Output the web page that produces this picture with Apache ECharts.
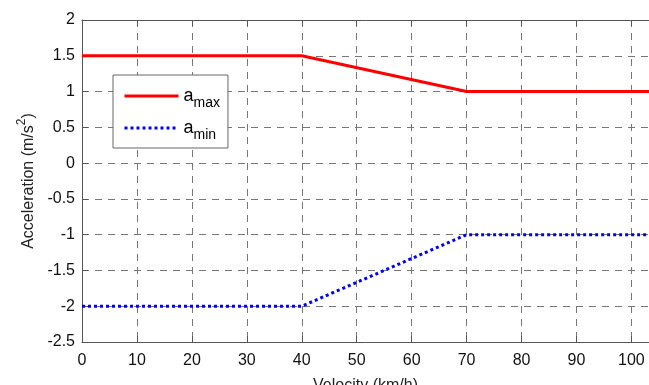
<!DOCTYPE html>
<html>
<head>
<meta charset="utf-8">
<script src="https://cdn.jsdelivr.net/npm/echarts@6/dist/echarts.min.js"></script>
<style>
  html, body { margin: 0; padding: 0; background: #fff; }
  #chart { width: 649px; height: 385px; }
</style>
</head>
<body>
<div id="chart"></div>
<script>
// velocity breakpoints (km/h) and acceleration limits (m/s^2)
const velocity = [0, 40, 70, 103.2];
const aMax = [1.5, 1.5, 1.0, 1.0];
const aMin = [-2, -2, -1, -1];
const xTicks = [0, 10, 20, 30, 40, 50, 60, 70, 80, 90, 100];
const yTicks = [-2.5, -2, -1.5, -1, -0.5, 0, 0.5, 1, 1.5, 2];

const font = "Liberation Sans, Arial, sans-serif";
const gridLine = { show: true, lineStyle: { color: "#777", type: [7, 6], width: 1 } };

let mychart = echarts.init(document.getElementById("chart"));
mychart.setOption({
  animation: false,
  grid: { left: 82, top: 20, right: 0, bottom: 43, outerBoundsMode: "none" },
  legend: {
    orient: "vertical",
    left: 113,
    top: 75,
    backgroundColor: "#fff",
    borderColor: "#666",
    borderWidth: 1,
    padding: [12, 8, 6, 10],
    itemWidth: 54,
    itemHeight: 12,
    itemGap: 9,
    itemStyle: { opacity: 0 },
    lineStyle: { width: 3 },
    formatter: function (name) {
      return name === "amax" ? "{a|a}{s|max}" : "{a|a}{s|min}";
    },
    textStyle: {
      rich: {
        a: { fontSize: 18, fontFamily: font, color: "#000" },
        s: { fontSize: 14, fontFamily: font, color: "#000", padding: [14, 0, 0, 0] }
      }
    },
    data: ["amax", "amin"]
  },
  xAxis: [
    {
      type: "value",
      min: 0,
      max: 103.2,
      interval: 10,
      name: "Velocity (km/h)",
      nameLocation: "middle",
      nameGap: 36,
      nameTextStyle: { fontSize: 16, fontFamily: font, color: "#222" },
      axisLine: { onZero: false, lineStyle: { color: "#555" } },
      axisTick: { inside: true, length: 6, lineStyle: { color: "#555" } },
      axisLabel: {
        fontSize: 16, fontFamily: font, color: "#111", margin: 11,
        formatter: v => (xTicks.indexOf(v) >= 0 ? String(v) : "")
      },
      splitLine: gridLine
    },
    {
      type: "value",
      position: "top",
      min: 0,
      max: 103.2,
      interval: 10,
      axisLine: { show: true, onZero: false, lineStyle: { color: "#555" } },
      axisTick: { show: true, inside: true, length: 6, lineStyle: { color: "#555" } },
      axisLabel: { show: false },
      splitLine: { show: false }
    }
  ],
  yAxis: {
    type: "value",
    min: yTicks[0],
    max: yTicks[yTicks.length - 1],
    interval: 0.5,
    name: "{n|Acceleration (m/s}{p|2}{n|)}",
    nameLocation: "middle",
    nameGap: 44,
    nameTextStyle: {
      rich: {
        n: { fontSize: 16, fontFamily: font, color: "#222", padding: [6, 0, 0, 0] },
        p: { fontSize: 12, fontFamily: font, color: "#222", padding: [0, 0, 8, 0] }
      }
    },
    axisLine: { show: true, onZero: false, lineStyle: { color: "#555" } },
    axisTick: { show: true, inside: true, length: 6, lineStyle: { color: "#555" } },
    axisLabel: { fontSize: 16, fontFamily: font, color: "#111", margin: 7 },
    splitLine: gridLine
  },
  series: [
    {
      name: "amax",
      type: "line",
      symbol: "none",
      color: "#ff0000",
      lineStyle: { color: "#ff0000", width: 3 },
      data: velocity.map((v, i) => [v, aMax[i]])
    },
    {
      name: "amin",
      type: "line",
      symbol: "none",
      color: "#0000ff",
      lineStyle: { color: "#0000ff", width: 3, type: [3, 3] },
      data: velocity.map((v, i) => [v, aMin[i]])
    }
  ]
});
</script>
</body>
</html>
